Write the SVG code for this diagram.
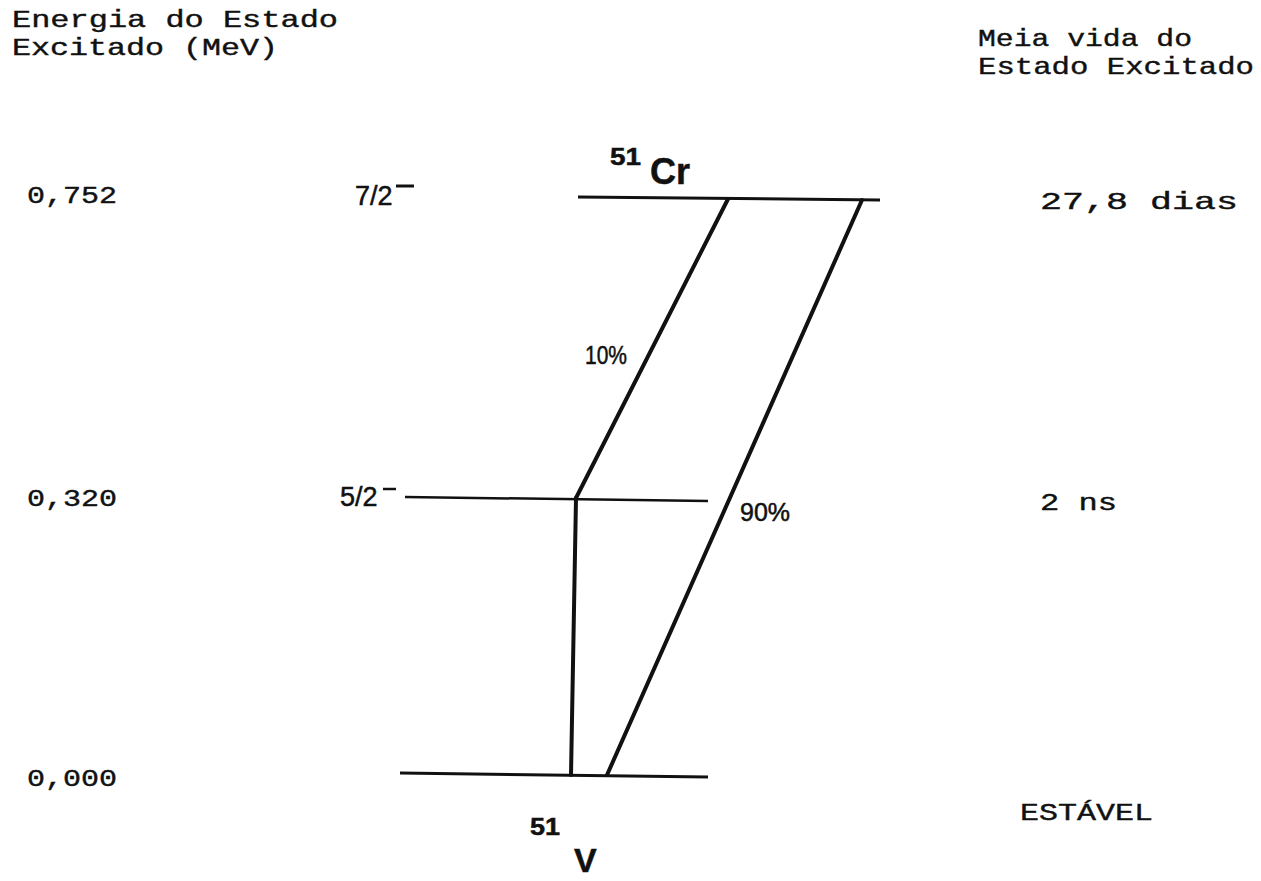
<svg xmlns="http://www.w3.org/2000/svg" width="1261" height="881" viewBox="0 0 1261 881">
<style>
.mono{font-family:"Liberation Mono","DejaVu Sans Mono",monospace;font-size:24px;fill:#111;stroke:#111;stroke-width:0.4}
.sans{font-family:"Liberation Sans","Arial",sans-serif;font-size:27px;fill:#111;stroke:#111;stroke-width:0.5}
.bold{font-weight:bold}
.lvl{stroke:#111;fill:none;stroke-linecap:butt}
.tr{stroke:#111;fill:none;stroke-width:4;stroke-linecap:round}
</style>
<rect width="1261" height="881" fill="#fff"/>
<g id="headers">
<text class="mono" x="12" y="27" textLength="326" lengthAdjust="spacingAndGlyphs">Energia do Estado</text>
<text class="mono" x="12" y="55" textLength="266" lengthAdjust="spacingAndGlyphs">Excitado (MeV)</text>
<text class="mono" x="978" y="46" textLength="214" lengthAdjust="spacingAndGlyphs">Meia vida do</text>
<text class="mono" x="978" y="74" textLength="276" lengthAdjust="spacingAndGlyphs">Estado Excitado</text>
</g>
<g id="level-0752">
<line class="lvl" x1="578" y1="197" x2="880" y2="200" stroke-width="3"/>
<text class="mono" x="27" y="203" textLength="90" lengthAdjust="spacingAndGlyphs">0,752</text>
<text class="sans" x="355" y="205">7/2</text>
<line x1="396" y1="186" x2="414" y2="186" stroke="#111" stroke-width="3"/>
<text class="mono" x="1040" y="209" textLength="198" lengthAdjust="spacingAndGlyphs">27,8 dias</text>
<text class="sans bold" x="610" y="165" style="font-size:24px" textLength="31" lengthAdjust="spacingAndGlyphs">51</text>
<text class="sans bold" x="650" y="184" style="font-size:36px">Cr</text>
</g>
<g id="level-0320">
<line class="lvl" x1="405" y1="497" x2="708" y2="501" stroke-width="2.5"/>
<text class="mono" x="27" y="506" textLength="90" lengthAdjust="spacingAndGlyphs">0,320</text>
<text class="sans" x="340" y="506">5/2</text>
<line x1="383" y1="489" x2="396" y2="489" stroke="#111" stroke-width="2.5"/>
<text class="mono" x="1040" y="510" textLength="77" lengthAdjust="spacingAndGlyphs">2 ns</text>
</g>
<g id="level-0000">
<line class="lvl" x1="400" y1="773" x2="708" y2="777" stroke-width="3"/>
<text class="mono" x="27" y="786" textLength="90" lengthAdjust="spacingAndGlyphs">0,000</text>
<text class="mono" x="1020" y="820" textLength="133" lengthAdjust="spacingAndGlyphs">ESTÁVEL</text>
<text class="sans bold" x="530" y="835" style="font-size:24px" textLength="30" lengthAdjust="spacingAndGlyphs">51</text>
<text class="sans bold" x="574" y="872" style="font-size:34px">V</text>
</g>
<g id="connectors">
<line class="tr" x1="728" y1="199" x2="576" y2="498"/>
<line class="tr" x1="576" y1="498" x2="571" y2="775"/>
<line class="tr" x1="862" y1="200" x2="607" y2="775"/>
<text class="sans" x="585" y="364" style="font-size:25px" textLength="42" lengthAdjust="spacingAndGlyphs">10%</text>
<text class="sans" x="740" y="521" style="font-size:25px" textLength="50" lengthAdjust="spacingAndGlyphs">90%</text>
</g>
</svg>
